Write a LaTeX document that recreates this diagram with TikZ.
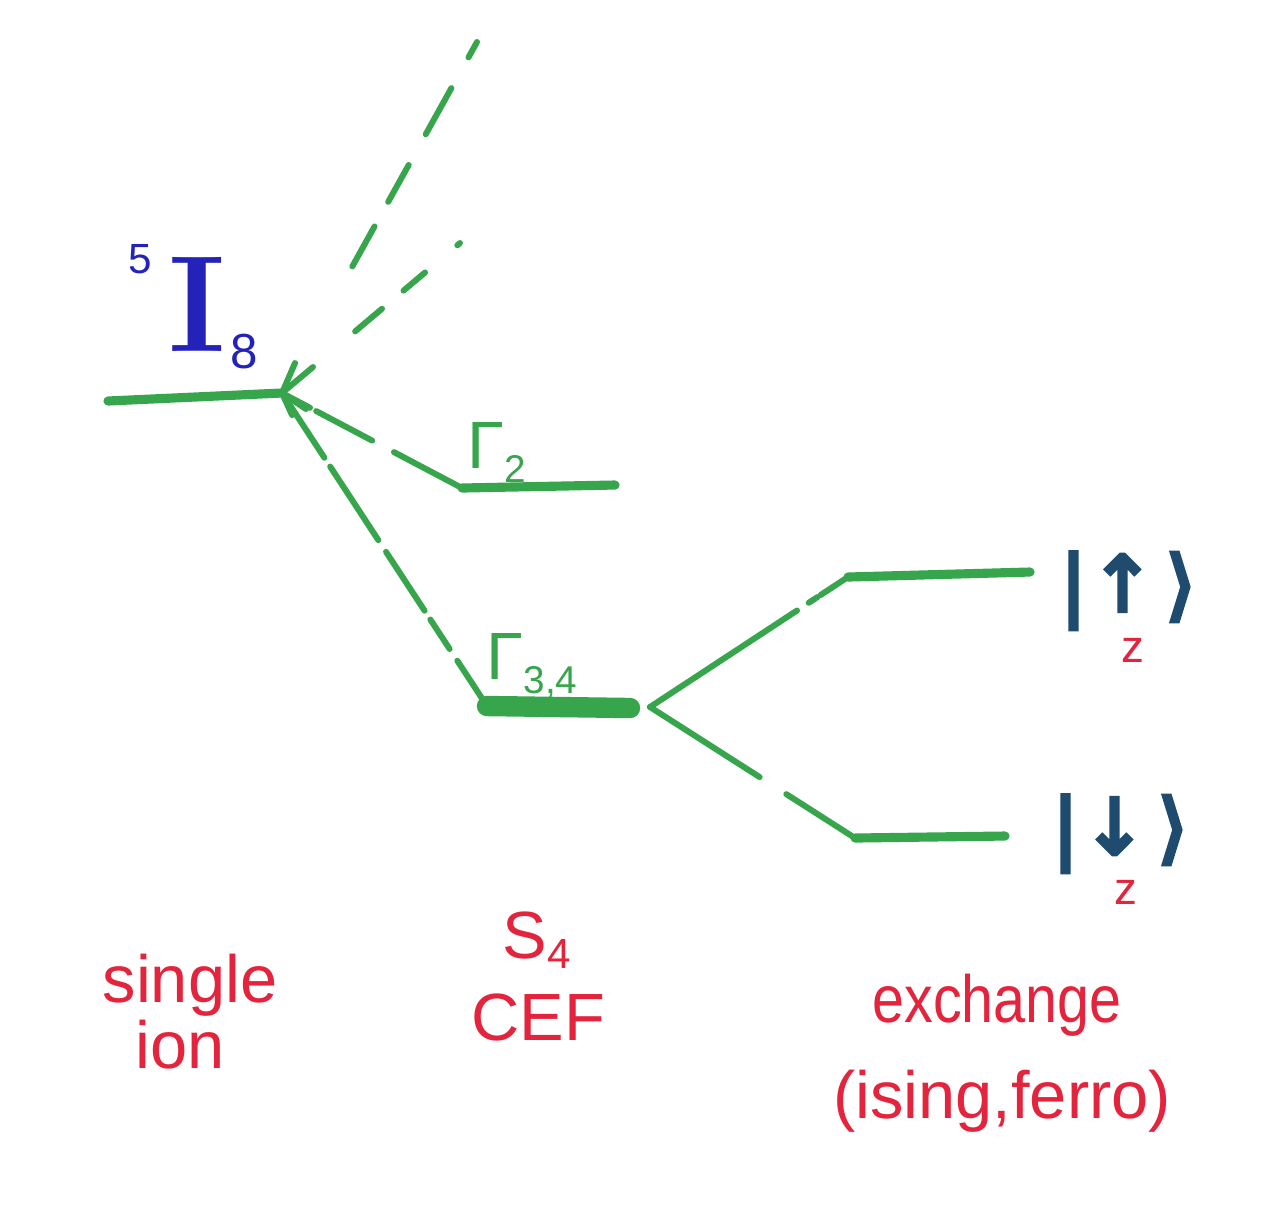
\documentclass[tikz,border=0pt]{standalone}
\usepackage{fontspec}
\newfontfamily\handfont{Liberation Sans}
\newfontfamily\ketfont[FakeBold=5]{DejaVu Sans}
\definecolor{mk}{RGB}{55,165,75}
\definecolor{mkred}{RGB}{228,35,60}
\definecolor{mkblue}{RGB}{35,35,185}
\definecolor{ketcol}{RGB}{30,75,110}
\begin{document}
\begin{tikzpicture}[x=0.01cm,y=-0.01cm,
  level/.style={draw=mk,line width=2.6pt,line cap=round},
  fatlevel/.style={draw=mk,line width=5.8pt,line cap=round},
  conn/.style={draw=mk,line width=1.7pt,line cap=round},
  redlbl/.style={text=mkred,font=\handfont\fontsize{19}{21}\selectfont,inner sep=0pt},
  gam/.style={text=mk,font=\handfont\fontsize{19}{19}\selectfont,inner sep=0pt,anchor=base west},
  ket/.style={text=ketcol,font=\ketfont\fontsize{22}{22}\selectfont,inner sep=0pt,text height=0.76em,text depth=0.24em},
  zlbl/.style={text=mkred,font=\handfont\fontsize{13}{13}\selectfont,inner sep=0pt}
]
\fill[white] (0,0) rectangle (1274,1208);
\useasboundingbox (0,0) rectangle (1274,1208);

% level coordinates
\coordinate (I8L) at (108,401);
\coordinate (I8R) at (282,393);
\coordinate (top1) at (477,42);
\coordinate (top2) at (460,243);
\coordinate (G2L) at (462,488);
\coordinate (G2R) at (615,485);
\coordinate (G34L) at (487,706);
\coordinate (G34R) at (630,708);
\coordinate (split) at (650,707);
\coordinate (UpL) at (848,577);
\coordinate (UpR) at (1030,572);
\coordinate (DnL) at (855,838);
\coordinate (DnR) at (1005,836);

% levels
\draw[level] (I8L) -- (I8R);
\draw[level] (G2L) -- (G2R);
\draw[fatlevel] (G34L) -- (G34R);
\draw[level] (UpL) -- (UpR);
\draw[level] (DnL) -- (DnR);

% connectors
\draw[conn,dash pattern=on 5pt off 10pt on 15pt off 10pt on 12pt off 8pt on 13pt off 40pt] (top1) -- (I8R);
\draw[conn,dash pattern=on 1pt off 12pt on 8pt off 8pt on 10pt off 40pt] (top2) -- (I8R);
\draw[conn,dash pattern=on 9pt off 2pt on 18pt off 7pt on 40pt off 1pt] (I8R) -- (G2L);
\draw[conn,dash pattern=on 22pt off 3pt on 25pt off 4pt on 20pt off 3pt on 10pt off 4pt on 40pt off 1pt] (I8R) -- (G34L);
\draw[conn,dash pattern=on 50pt off 4pt on 3pt off 1pt on 40pt off 1pt] (split) -- (UpL);
\draw[conn,dash pattern=on 37pt off 9pt on 40pt off 1pt] (split) -- (DnL);

% arrow chevrons at the 5I8 level
\draw[conn] ([shift={(31,-26)}]I8R) -- (I8R) -- ([shift={(24,16)}]I8R);
\draw[conn] ([shift={(13,-30)}]I8R) -- (I8R) -- ([shift={(10,22)}]I8R);

% labels
\node[anchor=base west,text=mkblue,inner sep=0pt] (term) at (128,351)
  {{\handfont\fontsize{12}{12}\selectfont\raisebox{22pt}{5}}\hspace{4.5pt}{\fontsize{39}{39}\selectfont\bfseries I}\hspace{1.5pt}{\handfont\fontsize{14}{14}\selectfont\raisebox{-5pt}{8}}};
\node[gam] (g2lbl) at (467,468) {Γ\raisebox{-4pt}{\fontsize{11}{11}\selectfont 2}};
\node[gam] (g34lbl) at (486,679) {Γ\raisebox{-4pt}{\fontsize{11}{11}\selectfont 3,4}};

\node[ket] (up) at (1128,602) {|\kern1pt↑\kern3pt⟩};
\node[zlbl] (zup) at (1133,650) {z};
\node[ket] (dn) at (1120,845) {|\kern1pt↓\kern3pt⟩};
\node[zlbl] (zdn) at (1126,892) {z};

\node[redlbl,anchor=base] (single) at (190,1002) {single};
\node[redlbl,anchor=base] (ion) at (180,1068) {ion};
\node[redlbl,anchor=base] (s4) at (537,958) {S\raisebox{-3pt}{\fontsize{12}{12}\selectfont 4}};
\node[redlbl,anchor=base] (cef) at (538,1040) {CEF};
\node[redlbl,anchor=base] (exch) at (997,1022) {\scalebox{0.86}[1]{exchange}};
\node[redlbl,anchor=base] (ising) at (1002,1118) {(ising,ferro)};
\end{tikzpicture}
\end{document}
